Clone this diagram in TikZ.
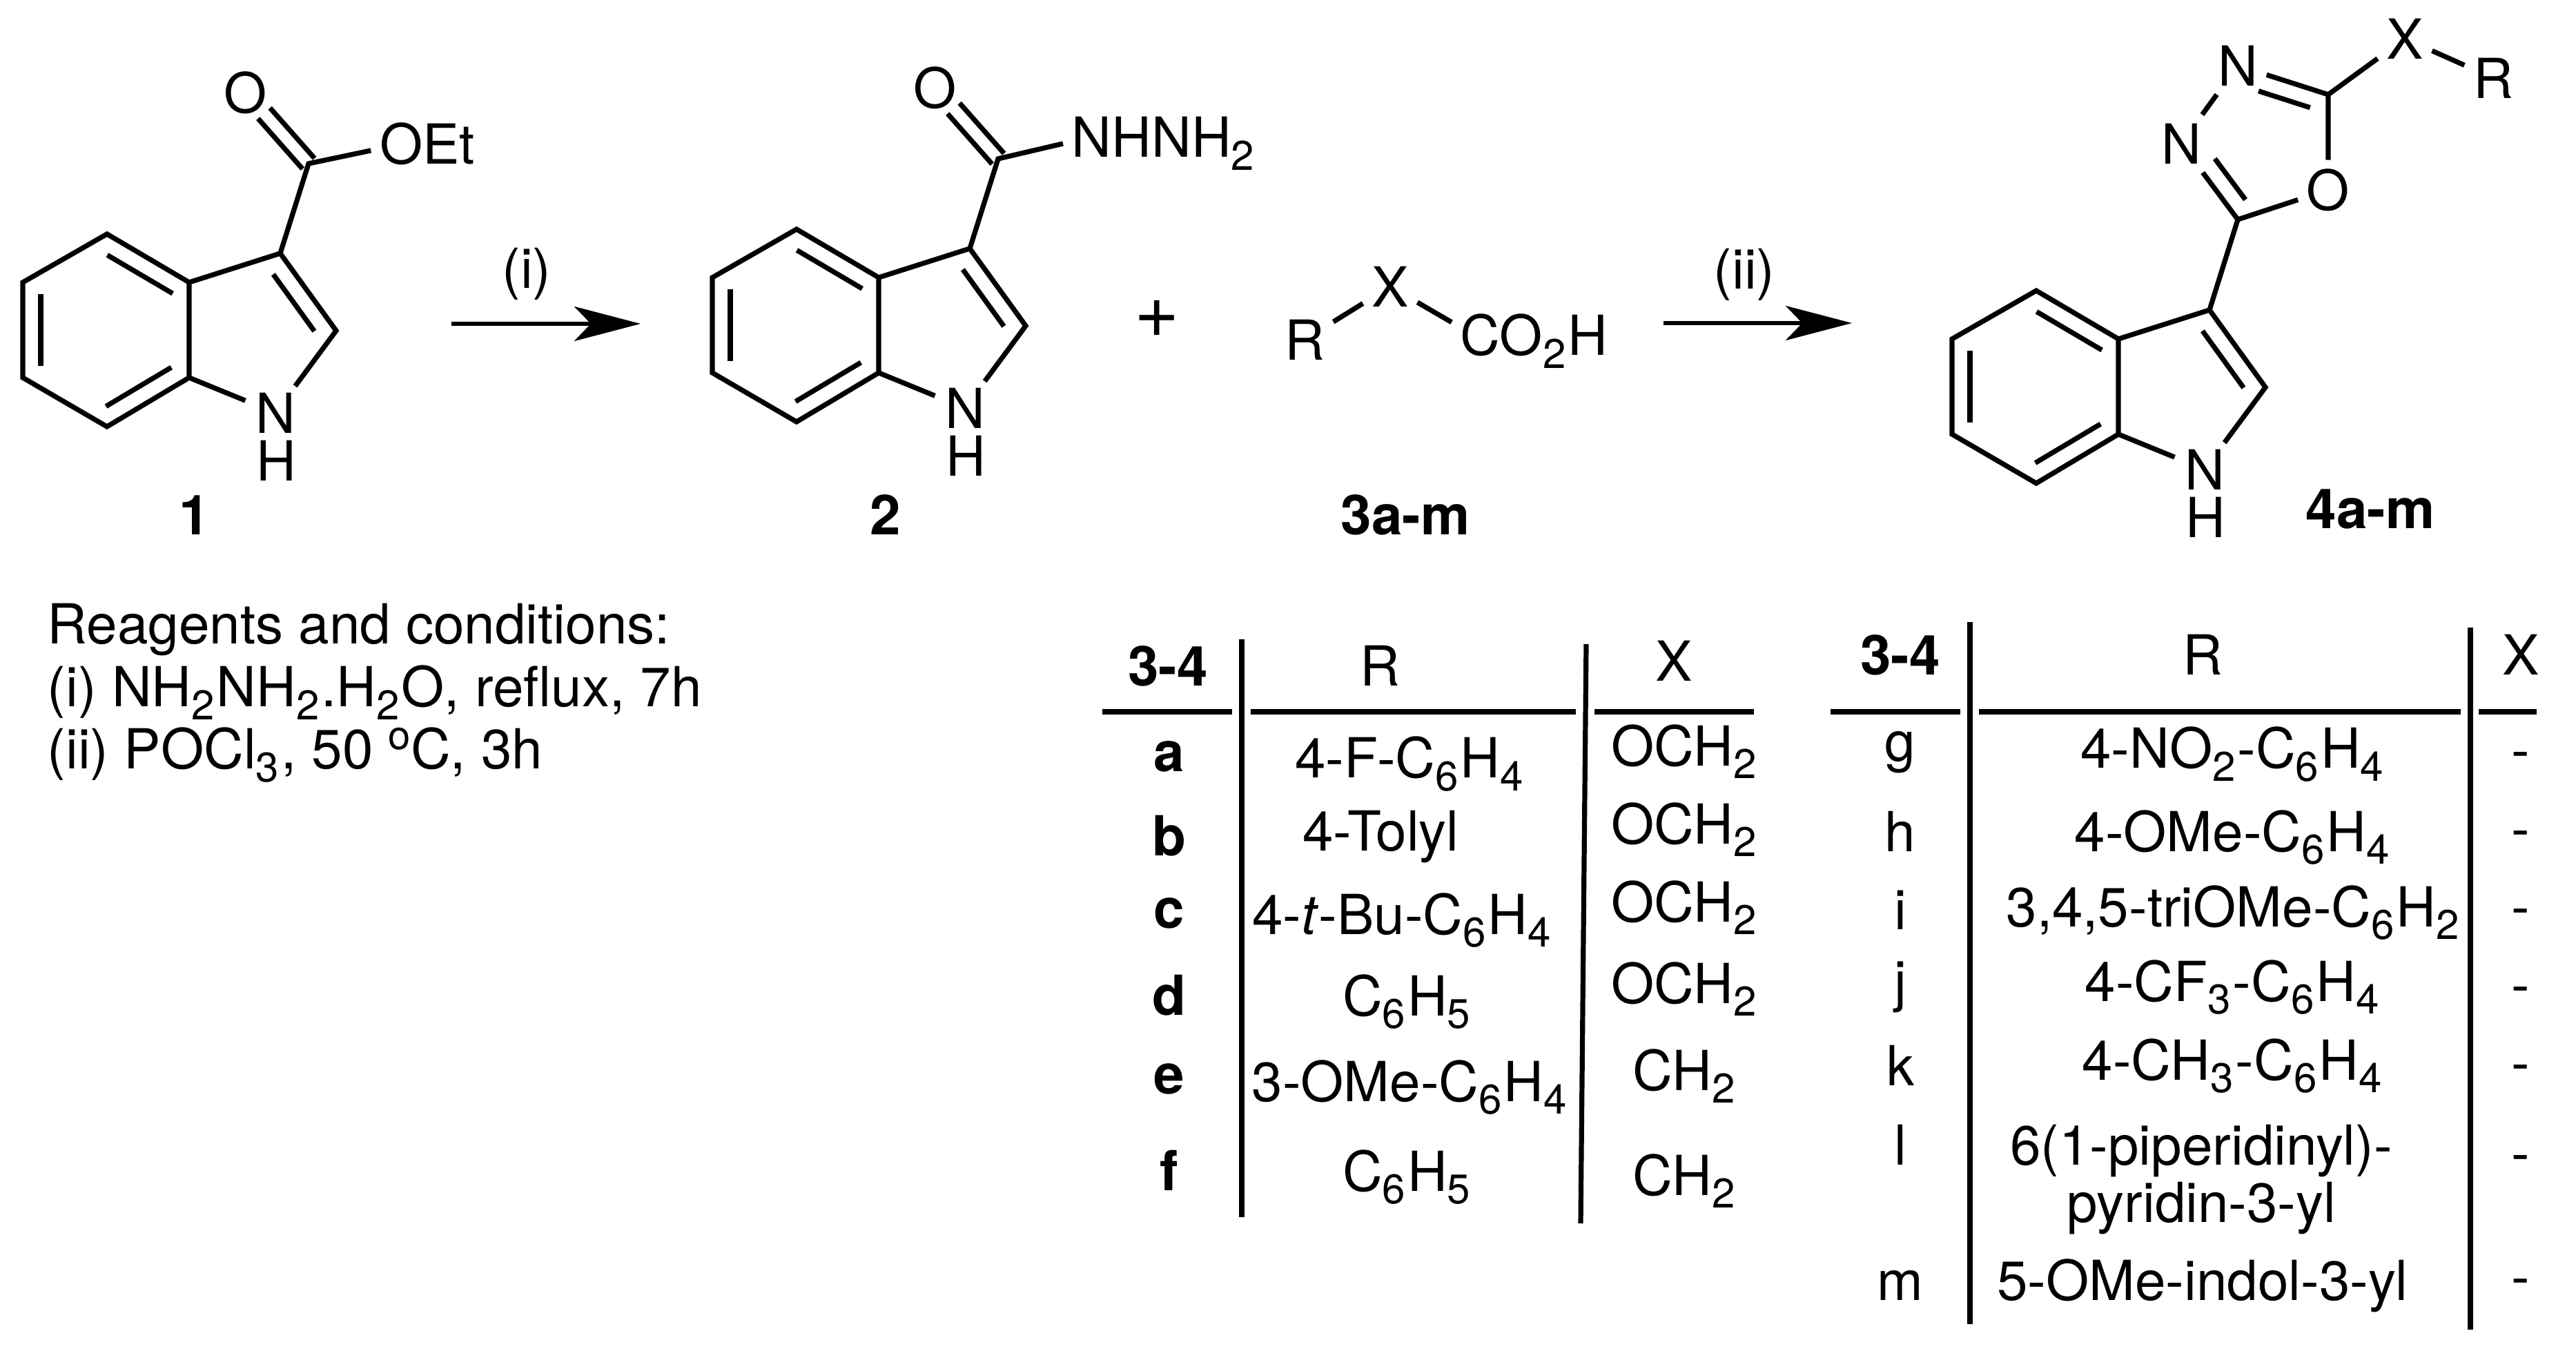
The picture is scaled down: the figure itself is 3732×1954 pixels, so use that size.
\documentclass[tikz,border=0pt]{standalone}
\usepackage{fontspec}
\setmainfont{TeX Gyre Heros}
\usetikzlibrary{arrows.meta, calc}

\newcommand{\sbs}[1]{\raisebox{-4.6pt}{\fontsize{15pt}{15pt}\selectfont #1}\kern0.7pt}
\newcommand{\sps}[1]{\raisebox{7pt}{\fontsize{14.5pt}{14.5pt}\selectfont #1}}
\newcommand{\dblin}[4]{\draw[bond] ($(#1)!#3!(#2)!6.5pt!90:(#2)$) -- ($(#1)!#4!(#2)!6.5pt!90:(#2)$);}
\newcommand{\dblO}[2]{
  \draw[bond, shorten >=10pt] ($(#1)!2.9pt!90:(#2)$) -- ($(#2)!2.9pt!-90:(#1)$);
  \draw[bond, shorten >=10pt] ($(#1)!2.9pt!-90:(#2)$) -- ($(#2)!2.9pt!90:(#1)$);
}
\newcommand{\indole}[1]{
  \coordinate (#1t) at (155,339);
  \coordinate (#1lt) at (33,409);
  \coordinate (#1lb) at (33,547);
  \coordinate (#1b) at (155,618);
  \coordinate (#1rb) at (274,547);
  \coordinate (#1rt) at (274,409);
  \coordinate (#1c3) at (406,367);
  \coordinate (#1c2) at (487,479);
  \node[atom, inner ysep=1pt] (#1N) at (399,598) {N};
  \node[txt] (#1H) at (400,667) {H};
  \draw[bond] (#1t) -- (#1lt) -- (#1lb) -- (#1b) -- (#1rb) -- (#1rt) -- cycle;
  \draw[bond, shorten >=1.5pt] (#1rt) -- (#1c3) -- (#1c2) -- (#1N);
  \draw[bond, shorten >=0.5pt] (#1rb) -- (#1N);
  \dblin{#1rt}{#1t}{.09}{.885}
  \dblin{#1lt}{#1lb}{.12}{.88}
  \dblin{#1b}{#1rb}{.1}{.895}
  \dblin{#1c2}{#1c3}{.13}{.865}
}

\tikzset{
  txt/.style={font=\fontsize{20pt}{22pt}\selectfont, inner sep=0pt},
  atom/.style={txt, inner sep=3pt},
  cell/.style={txt, anchor=base},
  lbl/.style={cell, font=\fontsize{20pt}{22pt}\selectfont\bfseries},
  bond/.style={line width=1.8pt},
  rxn/.style={line width=1.6pt, -{Stealth[length=24pt, width=12.5pt, inset=6pt]}},
  tblrule/.style={line width=1.8pt}
}

\begin{document}
\begin{tikzpicture}[x=0.25pt, y=-0.25pt]
  \useasboundingbox (0,0) rectangle (3732,1954);

  % Compound 1
  \indole{a}
  \coordinate (aco) at (447,237);
  \node[atom] (aO) at (356,134) {O};
  \node[atom] (aOEt) at (619,208) {OEt};
  \draw[bond] (ac3) -- (aco) -- (aOEt.187);
  \dblO{aco}{aO}
  \node[lbl] (one) at (282,775) {1};

  % Compound 2
  \begin{scope}[shift={(999,-7)}]
    \indole{b}
    \coordinate (bco) at (447,237);
    \node[atom] (bO) at (356,134) {O};
    \node[atom, anchor=base west] (bNH) at (541,235) {NHNH\sbs{2}};
    \draw[bond] (bc3) -- (bco) -- (bNH.west);
    \dblO{bco}{bO}
  \end{scope}
  \node[lbl] (two) at (1283,775) {2};

  % Plus and acid 3
  \node[txt, font=\fontsize{28pt}{28pt}\selectfont] (plus) at (1676,462) {+};
  \node[atom] (cR) at (1890,492) {R};
  \node[atom] (cX) at (2014,415) {X};
  \node[atom, anchor=base west] (cacid) at (2103,515) {CO\sbs{2}H};
  \draw[bond] (cR) -- (cX);
  \draw[bond] (cX) -- (cacid.167);
  \node[lbl] (three) at (2036,775) {3a-m};

  % Compound 4
  \begin{scope}[shift={(2795,82)}]
    \indole{d}
  \end{scope}
  \coordinate (dox2) at (3242,318);
  \coordinate (dox5) at (3373,137);
  \node[atom] (dN3) at (3160,208) {N};
  \node[atom] (dN4) at (3242,95) {N};
  \node[atom] (dO1) at (3373,275) {O};
  \node[atom] (dX) at (3484,56) {X};
  \node[atom] (dR) at (3612,113) {R};
  \draw[bond] (dc3) -- (dox2) -- (dO1) -- (dox5) -- (dN4) -- (dN3) -- (dox2);
  \draw[bond] (dox5) -- (dX) -- (dR);
  \dblin{dox5}{dN4}{.14}{.71}
  \dblin{dN3}{dox2}{.34}{.88}
  \node[lbl] (four) at (3434,766) {4a-m};

  % Arrows
  \coordinate (s1) at (654,469);
  \coordinate (e1) at (928,469);
  \coordinate (s2) at (2410,468);
  \coordinate (e2) at (2683,468);
  \draw[rxn] (s1) -- (e1);
  \draw[rxn] (s2) -- (e2);
  \node[txt] (stepi) at (763,397) {(i)};
  \node[txt] (stepii) at (2527,398) {(ii)};

  % Conditions
  \node[txt, anchor=base west] (cond0) at (68,933) {Reagents and conditions:};
  \node[txt, anchor=base west] (cond1) at (68,1024) {(i) NH\sbs{2}NH\sbs{2}.H\sbs{2}O, reflux, 7h};
  \node[txt, anchor=base west] (cond2) at (68,1114) {(ii) POCl\sbs{3}, 50 \sps{o}C, 3h};

  % Left table
  \draw[tblrule] (1799,926) -- (1799,1763);
  \draw[tblrule] (2298,933) -- (2290,1772);
  \draw[tblrule] (1597,1031) -- (1785,1031);
  \draw[tblrule] (1812,1031) -- (2283,1031);
  \draw[tblrule] (2310,1031) -- (2541,1031);

  \node[lbl] (hA) at (1692,994) {3-4};
  \node[cell] (hB) at (1999,994) {R};
  \node[cell] (hC) at (2425,987) {X};

  \node[lbl] (ta) at (1694,1118) {a};
  \node[lbl] (tb) at (1694,1239) {b};
  \node[lbl] (tc) at (1694,1344) {c};
  \node[lbl] (td) at (1694,1470) {d};
  \node[lbl] (te) at (1694,1584) {e};
  \node[lbl] (tf) at (1694,1724) {f};

  \node[cell] (Ra) at (2043,1127) {4-F-C\sbs{6}H\sbs{4}};
  \node[cell] (Rb) at (2000,1232) {4-Tolyl};
  \node[cell] (Rc) at (2032,1353) {4-\textit{t}-Bu-C\sbs{6}H\sbs{4}};
  \node[cell] (Rd) at (2039,1471) {C\sbs{6}H\sbs{5}};
  \node[cell] (Re) at (2043,1595) {3-OMe-C\sbs{6}H\sbs{4}};
  \node[cell] (Rf) at (2039,1725) {C\sbs{6}H\sbs{5}};

  \node[cell] (Xa) at (2441,1109) {OCH\sbs{2}};
  \node[cell] (Xb) at (2441,1222) {OCH\sbs{2}};
  \node[cell] (Xc) at (2441,1335) {OCH\sbs{2}};
  \node[cell] (Xd) at (2441,1453) {OCH\sbs{2}};
  \node[cell] (Xe) at (2441,1579) {CH\sbs{2}};
  \node[cell] (Xf) at (2441,1731) {CH\sbs{2}};

  % Right table
  \draw[tblrule] (2854,901) -- (2854,1918);
  \draw[tblrule] (3579,909) -- (3579,1926);
  \draw[tblrule] (2652,1031) -- (2840,1031);
  \draw[tblrule] (2867,1031) -- (3565,1031);
  \draw[tblrule] (3591,1031) -- (3675,1031);

  \node[lbl] (kA) at (2753,978) {3-4};
  \node[cell] (kB) at (3191,978) {R};
  \node[cell] (kC) at (3652,978) {X};

  \node[cell] (tg) at (2753,1103) {g};
  \node[cell] (th) at (2753,1233) {h};
  \node[cell] (ti) at (2753,1346) {i};
  \node[cell] (tj) at (2753,1449) {j};
  \node[cell] (tk) at (2753,1572) {k};
  \node[cell] (tl) at (2753,1687) {l};
  \node[cell] (tm) at (2753,1883) {m};

  \node[cell] (Rg) at (3235,1113) {4-NO\sbs{2}-C\sbs{6}H\sbs{4}};
  \node[cell] (Rh) at (3235,1233) {4-OMe-C\sbs{6}H\sbs{4}};
  \node[cell] (Ri) at (3236,1342) {3,4,5-triOMe-C\sbs{6}H\sbs{2}};
  \node[cell] (Rj) at (3235,1450) {4-CF\sbs{3}-C\sbs{6}H\sbs{4}};
  \node[cell] (Rk) at (3235,1564) {4-CH\sbs{3}-C\sbs{6}H\sbs{4}};
  \node[cell] (Rl) at (3189,1687) {6(1-piperidinyl)-};
  \node[cell] (Rl2) at (3189,1770) {pyridin-3-yl};
  \node[cell] (Rm) at (3191,1883) {5-OMe-indol-3-yl};

  \node[cell] (Xg) at (3652,1115) {-};
  \node[cell] (Xh) at (3652,1228) {-};
  \node[cell] (Xi) at (3652,1341) {-};
  \node[cell] (Xj) at (3652,1454) {-};
  \node[cell] (Xk) at (3652,1567) {-};
  \node[cell] (Xl) at (3652,1698) {-};
  \node[cell] (Xm) at (3652,1877) {-};
\end{tikzpicture}
\end{document}
